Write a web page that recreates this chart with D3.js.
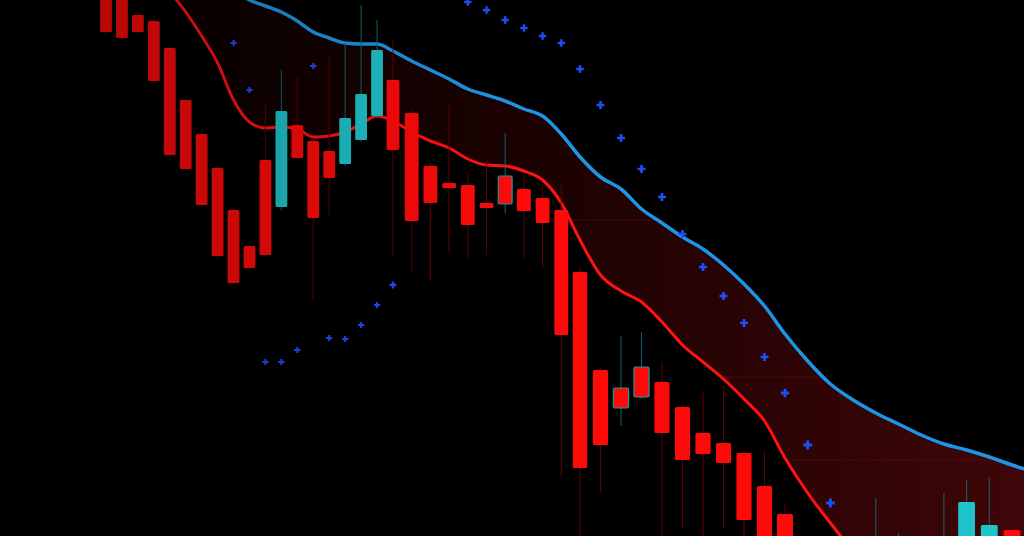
<!DOCTYPE html>
<html><head><meta charset="utf-8">
<script src="https://cdn.jsdelivr.net/npm/d3@7"></script>
<style>html,body{margin:0;padding:0;background:#000;overflow:hidden}svg{display:block}</style>
</head><body>
<svg id="chart" width="1024" height="536"></svg>
<script>
// ---- data (price units) ----
const bars = [0,1,2,3,4,5,6,7,8,9,10,11,12,13,14,15,16,17,18,19,20,21,22,23,24,25,26,27,28,29,30,31,32,33,34,35,36,37,38,39,40,41,42,43,44,45,46,47,48];
const openP  = [1.3020,1.3005,1.2985,1.2979,1.2952,1.2900,1.2866,1.2832,1.2790,1.2754,1.2840,1.2793,1.2875,1.2859,1.2849,1.2836,1.2860,1.2884,1.2920,1.2887,1.2834,1.2817,1.2815,1.2797,1.2796,1.2811,1.2802,1.2790,1.2728,1.2630,1.2592,1.2603,1.2618,1.2593,1.2567,1.2557,1.2547,1.2514,1.2486,1.2440,1.2420,1.2390,1.2400,1.2400,1.2420,1.2430,1.2440,1.2440,1.2470];
const closeP = [1.2968,1.2962,1.2968,1.2919,1.2845,1.2831,1.2795,1.2744,1.2717,1.2732,1.2745,1.2889,1.2842,1.2782,1.2822,1.2882,1.2906,1.2950,1.2850,1.2779,1.2797,1.2812,1.2775,1.2792,1.2824,1.2789,1.2777,1.2665,1.2532,1.2555,1.2612,1.2633,1.2567,1.2540,1.2546,1.2537,1.2480,1.2440,1.2420,1.2400,1.2390,1.2420,1.2440,1.2455,1.2450,1.2460,1.2498,1.2475,1.2440];
const highP  = [1.3025,1.3010,1.2988,1.2981,1.2954,1.2902,1.2868,1.2834,1.2792,1.2756,1.2895,1.2930,1.2923,1.2861,1.2943,1.2957,1.2995,1.2980,1.2960,1.2890,1.2838,1.2895,1.2827,1.2840,1.2867,1.2825,1.2815,1.2815,1.2732,1.2632,1.2664,1.2668,1.2638,1.2595,1.2607,1.2615,1.2549,1.2548,1.2495,1.2460,1.2455,1.2455,1.2502,1.2467,1.2460,1.2507,1.2520,1.2523,1.2473];
const lowP   = [1.2965,1.2959,1.2966,1.2917,1.2843,1.2829,1.2793,1.2742,1.2715,1.2730,1.2743,1.2790,1.2840,1.2700,1.2785,1.2834,1.2858,1.2882,1.2744,1.2728,1.2720,1.2747,1.2742,1.2745,1.2787,1.2742,1.2733,1.2523,1.2440,1.2508,1.2574,1.2601,1.2440,1.2472,1.2440,1.2472,1.2440,1.2420,1.2400,1.2380,1.2370,1.2370,1.2380,1.2380,1.2400,1.2410,1.2420,1.2420,1.2420];
// bullish bars drawn with red body and cyan outline
const outlinedBars = [24,30,31];

// envelope lines, one value per bar (0..49)
const lowerBand = [1.3110,1.3090,1.3068,1.3045,1.3010,1.2988,1.2964,1.2937,1.2900,1.2878,1.2872,1.2873,1.2871,1.2863,1.2864,1.2868,1.2876,1.2884,1.2879,1.2868,1.2859,1.2852,1.2841,1.2835,1.2834,1.2829,1.2820,1.2797,1.2760,1.2725,1.2709,1.2698,1.2678,1.2655,1.2638,1.2621,1.2601,1.2579,1.2542,1.2507,1.2477,1.2448,1.2420,1.2395,1.2375,1.2360,1.2350,1.2340,1.2330,1.2320];
const upperBand = [1.3090,1.3080,1.3070,1.3060,1.3050,1.3042,1.3033,1.3022,1.3010,1.3000,1.2994,1.2988,1.2979,1.2968,1.2962,1.2957,1.2956,1.2956,1.2949,1.2939,1.2930,1.2921,1.2911,1.2905,1.2899,1.2891,1.2884,1.2866,1.2843,1.2823,1.2811,1.2791,1.2777,1.2763,1.2751,1.2735,1.2716,1.2694,1.2666,1.2639,1.2616,1.2600,1.2587,1.2576,1.2565,1.2556,1.2550,1.2543,1.2535,1.2528];

// parabolic SAR
const sarBar   = [8,9,10,11,12,13,14,15,16,17,18,22,23,24,25,26,27,28,29,30,31,32,33,34,35,36,37,38,39,40];
const sarValue = [1.2957,1.2910,1.2638,1.2638,1.2650,1.2934,1.2662,1.2661,1.2675,1.2695,1.2715,1.2998,1.2990,1.2980,1.2972,1.2964,1.2957,1.2931,1.2895,1.2862,1.2831,1.2803,1.2766,1.2733,1.2704,1.2677,1.2643,1.2607,1.2555,1.2497];

const gridPrices = [1.2780, 1.2623, 1.2540];

// ---- drawing ----
const W = 1024, H = 536;
const svg = d3.select('#chart');
svg.append('rect').attr('width', W).attr('height', H).attr('fill', '#000');

// perspective of the photographed screen: bars get wider to the right
const x = d3.scaleLinear().domain([0, 18, 28, 38, 48]).range([106, 393, 580, 785, 1012]);
const y = d3.scaleLinear().domain([1.3000, 1.2464]).range([0, H]);
const step = i => x(i + 0.5) - x(i - 0.5);

const defs = svg.append('defs');
const bandGrad = defs.append('linearGradient').attr('id', 'bandGrad')
  .attr('gradientUnits', 'userSpaceOnUse').attr('x1', 150).attr('x2', 1024).attr('y1', 0).attr('y2', 0);
bandGrad.append('stop').attr('offset', 0).attr('stop-color', '#0a0000');
bandGrad.append('stop').attr('offset', 0.45).attr('stop-color', '#1c0202');
bandGrad.append('stop').attr('offset', 1).attr('stop-color', '#3e0608');

const shade = defs.append('linearGradient').attr('id', 'shade')
  .attr('gradientUnits', 'userSpaceOnUse').attr('x1', 0).attr('x2', 520).attr('y1', 0).attr('y2', 0);
shade.append('stop').attr('offset', 0).attr('stop-color', '#000').attr('stop-opacity', 0.35);
shade.append('stop').attr('offset', 1).attr('stop-color', '#000').attr('stop-opacity', 0);

const idx = d3.range(lowerBand.length);
const band = d3.area().curve(d3.curveMonotoneX)
  .x(i => x(i)).y0(i => y(lowerBand[i])).y1(i => y(upperBand[i]));
defs.append('clipPath').attr('id', 'bandClip').append('path').attr('d', band(idx));

svg.append('path').attr('d', band(idx)).attr('fill', 'url(#bandGrad)');

// faint grid visible through the band
svg.append('g').attr('clip-path', 'url(#bandClip)')
  .selectAll('line').data(gridPrices).join('line')
  .attr('x1', 0).attr('x2', W).attr('y1', d => y(d)).attr('y2', d => y(d))
  .attr('stroke', '#6a0a10').attr('stroke-width', 1).attr('opacity', 0.6);

const lineGen = arr => d3.line().curve(d3.curveMonotoneX).x(i => x(i)).y(i => y(arr[i]))(idx);
svg.append('path').attr('d', lineGen(lowerBand)).attr('fill', 'none')
  .attr('stroke', '#ff1212').attr('stroke-width', 3);
svg.append('path').attr('d', lineGen(upperBand)).attr('fill', 'none')
  .attr('stroke', '#1c95e6').attr('stroke-width', 3.5);

// candles
const RED = '#ff0a0a', CYAN = '#1fc3cb';
const g = svg.append('g');
bars.forEach(i => {
  const o = openP[i], c = closeP[i];
  const bull = c > o;
  const outlined = outlinedBars.includes(i);
  const w = step(i) * 0.74;
  g.append('line')
    .attr('x1', x(i)).attr('x2', x(i))
    .attr('y1', y(highP[i])).attr('y2', y(lowP[i]))
    .attr('stroke', bull ? '#0e7076' : '#6e0000').attr('stroke-width', 1.1)
    .attr('opacity', 0.85);
  const top = y(Math.max(o, c)), bot = y(Math.min(o, c));
  g.append('rect')
    .attr('x', x(i) - w / 2).attr('width', w)
    .attr('y', top).attr('height', Math.max(4, bot - top))
    .attr('rx', 1.5)
    .attr('fill', bull && !outlined ? CYAN : RED)
    .attr('stroke', outlined ? '#1a9a9a' : 'none').attr('stroke-width', outlined ? 1.2 : 0);
});

// SAR crosses
svg.append('g').selectAll('path').data(sarBar).join('path')
  .attr('transform', (b, k) => `translate(${x(b)},${y(sarValue[k])})`)
  .attr('d', b => { const a = step(b) * 0.13; return d3.symbol(d3.symbolCross, 5 * a * a)(); })
  .attr('fill', '#1d4df5');

// darker left side of the photographed screen
svg.append('rect').attr('width', W).attr('height', H).attr('fill', 'url(#shade)');
</script>
</body></html>
